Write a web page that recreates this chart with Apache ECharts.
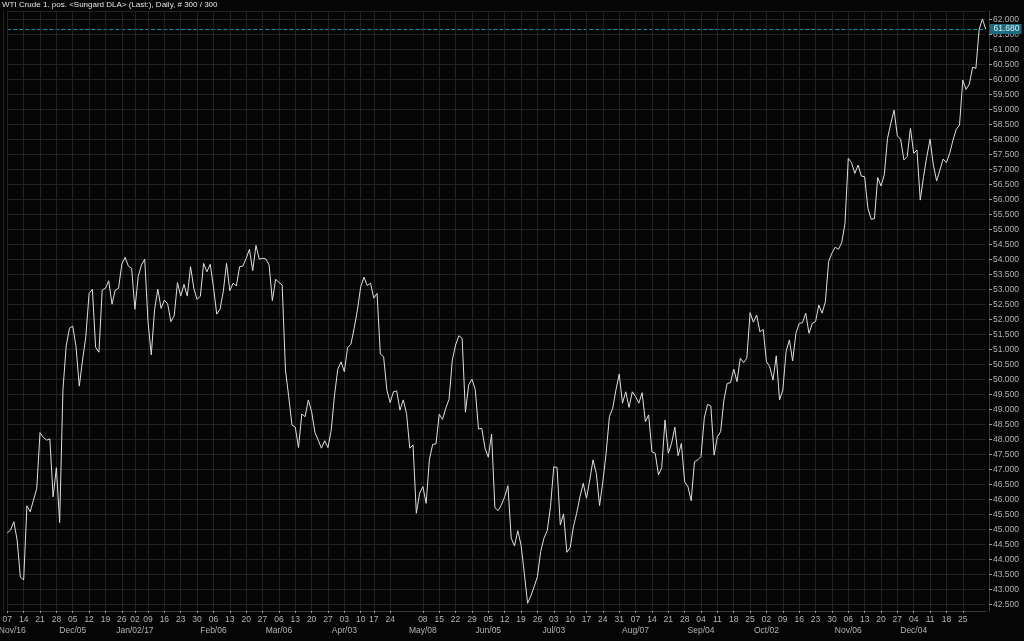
<!DOCTYPE html>
<html><head><meta charset="utf-8">
<script src="https://cdn.jsdelivr.net/npm/echarts@6/dist/echarts.min.js"></script>
<style>html,body{margin:0;padding:0;background:#050505;}#c{width:1024px;height:641px;}</style>
</head><body><div id="c"></div>
<script>
const titleText = 'WTI Crude 1. pos. <Sungard DLA> (Last:), Daily, # 300 / 300';
const startDate = '2016-11-07';
const holidays = ['2016-12-26', '2017-01-02', '2017-04-14', '2017-12-25', '2018-01-01'];

const prices = [
  44.89, 44.98, 45.26, 44.65, 43.41, 43.32, 45.79, 45.59, 45.98, 46.37,
  48.23, 48.07, 47.98, 48.02, 46.09, 47.06, 45.23, 49.65, 51.12, 51.71,
  51.78, 51.09, 49.78, 50.65, 51.43, 52.87, 53.01, 51.07, 50.91, 52.98,
  53.04, 53.29, 52.51, 52.98, 53.04, 53.85, 54.07, 53.78, 53.71, 52.34,
  53.43, 53.82, 54.01, 51.93, 50.82, 52.32, 53.01, 52.37, 52.65, 52.52,
  51.93, 52.12, 53.23, 52.78, 53.17, 52.78, 53.76, 53.04, 52.67, 52.78,
  53.87, 53.59, 53.84, 53.09, 52.18, 52.34, 52.93, 53.87, 52.96, 53.21,
  53.12, 53.76, 53.78, 54.04, 54.34, 53.63, 54.47, 54.01, 54.04, 54.02,
  53.82, 52.63, 53.34, 53.24, 53.15, 50.32, 49.43, 48.48, 48.41, 47.73,
  48.85, 48.76, 49.32, 48.93, 48.24, 47.98, 47.71, 47.96, 47.73, 48.32,
  49.48, 50.34, 50.59, 50.26, 51.07, 51.17, 51.71, 52.32, 53.09, 53.41,
  53.13, 53.21, 52.71, 52.87, 50.85, 50.76, 49.65, 49.23, 49.59, 49.62,
  48.98, 49.32, 48.87, 47.71, 47.82, 45.54, 46.21, 46.43, 45.87, 47.34,
  47.84, 47.85, 48.84, 48.67, 49.04, 49.34, 50.65, 51.15, 51.46, 51.37,
  48.91, 49.82, 50.01, 49.67, 48.35, 48.37, 47.71, 47.41, 48.18, 45.73,
  45.63, 45.82, 46.09, 46.46, 44.71, 44.45, 44.96, 44.48, 43.54, 42.54,
  42.79, 43.09, 43.43, 44.26, 44.71, 44.96, 45.76, 47.09, 47.07, 45.15,
  45.52, 44.24, 44.39, 45.09, 45.54, 46.09, 46.54, 46.04, 46.65, 47.32,
  46.87, 45.80, 46.60, 47.54, 48.76, 49.04, 49.65, 50.18, 49.21, 49.59,
  49.07, 49.59, 49.43, 49.21, 49.56, 48.59, 48.82, 47.59, 47.54, 46.82,
  47.06, 48.65, 47.54, 47.87, 48.41, 47.46, 47.87, 46.59, 46.43, 45.96,
  47.26, 47.32, 47.43, 48.71, 49.17, 49.12, 47.48, 48.09, 48.26, 49.32,
  49.87, 49.89, 50.35, 49.93, 50.71, 50.56, 50.71, 52.23, 51.91, 52.15,
  51.59, 51.67, 50.59, 50.43, 49.98, 50.79, 49.32, 49.65, 50.93, 51.32,
  50.62, 51.54, 51.87, 51.89, 52.21, 51.54, 51.87, 51.93, 52.48, 52.21,
  52.59, 53.93, 54.21, 54.41, 54.34, 54.56, 55.21, 57.37, 57.23, 56.87,
  57.15, 56.78, 56.76, 55.71, 55.34, 55.36, 56.73, 56.45, 56.82, 58.04,
  58.54, 58.98, 58.12, 58.01, 57.32, 57.43, 58.37, 57.54, 57.65, 55.98,
  56.76, 57.43, 58.01, 57.15, 56.62, 56.98, 57.35, 57.23, 57.54, 57.98,
  58.34, 58.48, 59.98, 59.67, 59.85, 60.41, 60.37, 61.67, 62.02, 61.68
];
const lastPrice = [61.68];

const weekTicks = [
  '2016-11-07', '2016-11-14', '2016-11-21', '2016-11-28', '2016-12-05', '2016-12-12', '2016-12-19', '2016-12-26',
  '2017-01-02', '2017-01-09', '2017-01-16', '2017-01-23', '2017-01-30', '2017-02-06', '2017-02-13', '2017-02-20',
  '2017-02-27', '2017-03-06', '2017-03-13', '2017-03-20', '2017-03-27', '2017-04-03', '2017-04-10', '2017-04-17',
  '2017-04-24', '2017-05-08', '2017-05-15', '2017-05-22', '2017-05-29', '2017-06-05', '2017-06-12', '2017-06-19',
  '2017-06-26', '2017-07-03', '2017-07-10', '2017-07-17', '2017-07-24', '2017-07-31', '2017-08-07', '2017-08-14',
  '2017-08-21', '2017-08-28', '2017-09-04', '2017-09-11', '2017-09-18', '2017-09-25', '2017-10-02', '2017-10-09',
  '2017-10-16', '2017-10-23', '2017-10-30', '2017-11-06', '2017-11-13', '2017-11-20', '2017-11-27', '2017-12-04',
  '2017-12-11', '2017-12-18', '2017-12-25'
];
const monthTickDates = ['2016-11-07', '2016-12-05', '2017-01-02', '2017-02-06', '2017-03-06', '2017-04-03', '2017-05-08',
  '2017-06-05', '2017-07-03', '2017-08-07', '2017-09-04', '2017-10-02', '2017-11-06', '2017-12-04'];
const monthTickLabels = ['Nov/16', 'Dec/05', 'Jan/02/17', 'Feb/06', 'Mar/06', 'Apr/03', 'May/08',
  'Jun/05', 'Jul/03', 'Aug/07', 'Sep/04', 'Oct/02', 'Nov/06', 'Dec/04'];

const yTicks = [];
for (let v = 42.5; v <= 62.0001; v += 0.5) yTicks.push(Math.round(v * 10) / 10);

// trading-day categories
function iso(d) { return d.toISOString().slice(0, 10); }
const dates = [];
{
  const d = new Date(startDate + 'T00:00:00Z');
  while (dates.length < prices.length) {
    const wd = d.getUTCDay();
    const s = iso(d);
    if (wd !== 0 && wd !== 6 && holidays.indexOf(s) < 0) dates.push(s);
    d.setUTCDate(d.getUTCDate() + 1);
  }
}
const firstIndexOnOrAfter = function (m) { return dates.findIndex(function (s) { return s >= m; }); };
const dayMap = new Map();
weekTicks.forEach(function (m) {
  const idx = firstIndexOnOrAfter(m);
  if (idx >= 0) dayMap.set(idx, m.slice(8, 10));
});
const monthMap = new Map();
monthTickDates.forEach(function (m, i) {
  const idx = firstIndexOnOrAfter(m);
  if (idx >= 0) monthMap.set(idx, monthTickLabels[i]);
});
const isDayTick = function (index) { return dayMap.has(index); };
const isMonthTick = function (index) { return monthMap.has(index); };

const FONT = "'Liberation Sans', Arial, sans-serif";
const LBL = '#b4b4b4';
const GRID = '#222222';
const TEAL = '#1a8fa8';
const Y_MIN = 42.5 - 6.5 / 30, Y_MAX = 62 + 8.5 / 30;

const chart = echarts.init(document.getElementById('c'), null, { renderer: 'canvas' });
chart.setOption({
  backgroundColor: '#050505',
  animation: false,
  title: {
    text: titleText, left: 2, top: 1, padding: 0,
    textStyle: { color: '#e4e4e4', fontSize: 8, fontWeight: 'normal', fontFamily: FONT }
  },
  grid: { left: 7.3, right: 38.3, top: 11, bottom: 30, containLabel: false, outerBoundsMode: 'none' },
  xAxis: [{
    type: 'category', data: dates, boundaryGap: false,
    axisLine: { show: true, lineStyle: { color: '#3a3a3a' } },
    axisTick: { show: true, length: 2, interval: isDayTick, lineStyle: { color: '#9a9a9a' } },
    axisLabel: {
      interval: isDayTick, showMinLabel: true, hideOverlap: false,
      color: LBL, fontSize: 8.5, fontFamily: FONT, lineHeight: 11, margin: 3,
      formatter: function (value, index) { return dayMap.get(index) || ''; }
    },
    splitLine: { show: true, interval: isDayTick, lineStyle: { color: GRID, width: 1 } }
  }, {
    type: 'category', data: dates, boundaryGap: false, position: 'bottom', offset: 11,
    axisLine: { show: false }, axisTick: { show: false }, splitLine: { show: false },
    axisLabel: {
      interval: isMonthTick, showMinLabel: true, hideOverlap: false,
      color: LBL, fontSize: 8.5, fontFamily: FONT, lineHeight: 11, margin: 3,
      formatter: function (value, index) {
        const t = monthMap.get(index);
        if (!t) return '';
        return index === 0 ? '{m0|' + t + '}' : t;
      },
      rich: {
        m0: { color: LBL, fontSize: 8.5, fontFamily: FONT, lineHeight: 11, padding: [0, 0, 0, 10] }
      }
    }
  }, {
    type: 'category', data: dates, boundaryGap: false, position: 'top',
    axisLine: { show: true, lineStyle: { color: GRID } },
    axisTick: { show: false }, axisLabel: { show: false }, splitLine: { show: false }
  }],
  yAxis: [{
    type: 'value', position: 'right', offset: 3.3, min: Y_MIN, max: Y_MAX,
    axisLine: { show: true, lineStyle: { color: '#3a3a3a' } },
    axisTick: { show: true, length: 3, customValues: yTicks, lineStyle: { color: '#9a9a9a' } },
    axisLabel: {
      customValues: yTicks, color: LBL, fontSize: 8.5, fontFamily: FONT, margin: 4,
      formatter: function (v) { return Number(v).toFixed(3); }
    },
    splitLine: { show: true, lineStyle: { color: GRID, width: 1 } }
  }, {
    type: 'value', position: 'left', offset: 4, min: 0, max: 1,
    axisLine: { show: true, lineStyle: { color: GRID } },
    axisTick: { show: false }, axisLabel: { show: false }, splitLine: { show: false }
  }, {
    // last-price line and badge
    type: 'value', position: 'right', offset: 3.3, min: Y_MIN, max: Y_MAX,
    axisLine: { show: false },
    axisTick: { show: false, customValues: lastPrice },
    axisLabel: {
      customValues: lastPrice, margin: 0.5,
      color: '#d6eef4', backgroundColor: '#1d6b7e', fontSize: 8.5, fontFamily: FONT,
      padding: [1, 2, 0, 4],
      formatter: function (v) { return Number(v).toFixed(3); }
    },
    splitLine: { show: true, lineStyle: { color: TEAL, type: [4, 2], width: 1 } }
  }],
  series: [{
    type: 'line', data: prices, symbol: 'none', xAxisIndex: 0, yAxisIndex: 0,
    lineStyle: { color: '#dedede', width: 1 }
  }]
});
</script>
</body></html>
